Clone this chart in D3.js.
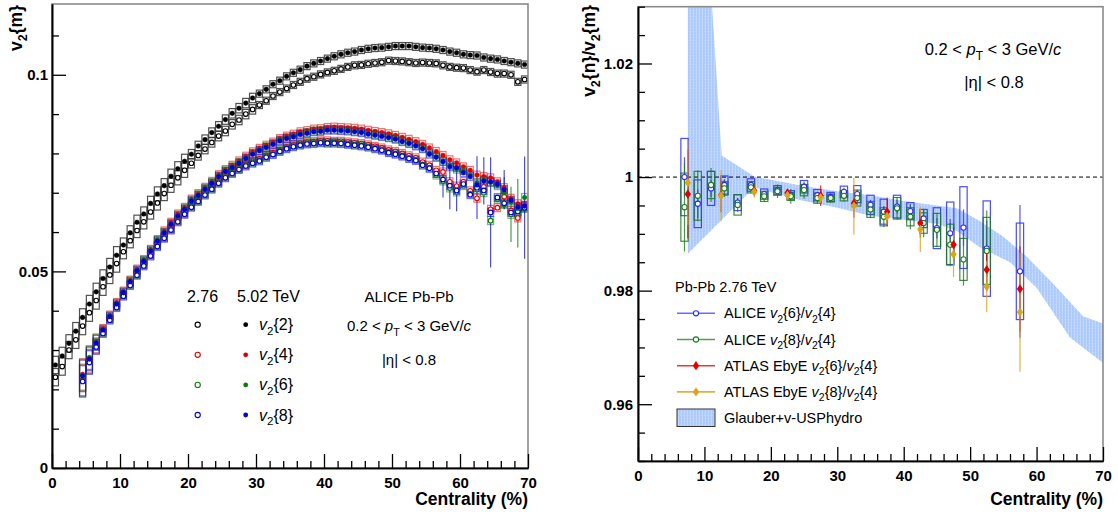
<!DOCTYPE html>
<html><head><meta charset="utf-8">
<script src="https://cdn.jsdelivr.net/npm/d3@7"></script>
<style>
body{margin:0;background:#fff}
svg{display:block}
text{font-family:"Liberation Sans",Arial,Helvetica,sans-serif;white-space:pre}
</style></head>
<body><svg id="c" width="1118" height="515"></svg>
<script>
// ---------------- DATA : left panel ----------------
const cenAll = d3.range(0.5, 70, 1);      // 1% bins 0-70
const cenMulti = d3.range(4.5, 70, 1);    // 1% bins 4-70
const v22_502 = [0.0262,0.0285,0.0317,0.0348,0.0383,0.0417,0.0448,0.0482,0.0511,0.0541,
 0.0567,0.0598,0.0625,0.0646,0.0673,0.0697,0.0718,0.0742,0.0761,0.0780,
 0.0798,0.0819,0.0835,0.0853,0.0869,0.0886,0.0902,0.0915,0.0928,0.0941,
 0.0952,0.0963,0.0976,0.0985,0.0996,0.1005,0.1013,0.1022,0.1029,0.1035,
 0.1041,0.1047,0.1052,0.1056,0.1059,0.1063,0.1066,0.1068,0.1069,0.1071,
 0.1073,0.1073,0.1073,0.1071,0.1069,0.1068,0.1066,0.1063,0.1059,0.1056,
 0.1052,0.1050,0.1049,0.1044,0.1041,0.1039,0.1035,0.1032,0.1029,0.1026];
const v22_276 = [0.0231,0.0258,0.0300,0.0326,0.0361,0.0395,0.0426,0.0461,0.0491,0.0520,
 0.0550,0.0578,0.0604,0.0626,0.0651,0.0674,0.0698,0.0719,0.0738,0.0757,
 0.0775,0.0795,0.0811,0.0828,0.0844,0.0857,0.0874,0.0885,0.0900,0.0912,
 0.0923,0.0934,0.0946,0.0956,0.0965,0.0974,0.0982,0.0990,0.0995,0.1001,
 0.1006,0.1010,0.1015,0.1020,0.1024,0.1025,0.1028,0.1030,0.1032,0.1036,
 0.1035,0.1034,0.1032,0.1030,0.1031,0.1030,0.1029,0.1024,0.1020,0.1018,
 0.1017,0.1012,0.1008,0.1012,0.1007,0.1003,0.1003,0.1000,0.0982,0.0988];
const v24_502 = [0.0238,0.0281,0.0322,0.0355,0.0389,0.0421,0.0450,0.0478,0.0506,0.0530,
 0.0556,0.0581,0.0603,0.0625,0.0646,0.0663,0.0684,0.0698,0.0714,0.0729,
 0.0746,0.0759,0.0770,0.0781,0.0793,0.0804,0.0813,0.0821,0.0829,0.0838,
 0.0844,0.0849,0.0855,0.0858,0.0862,0.0863,0.0866,0.0867,0.0866,0.0865,
 0.0864,0.0862,0.0859,0.0856,0.0853,0.0850,0.0846,0.0841,0.0836,0.0830,
 0.0823,0.0814,0.0805,0.0795,0.0784,0.0776,0.0766,0.0757,0.0745,0.0741,
 0.0738,0.0728,0.0713,0.0686,0.0672,0.0668];
const v26_502 = [0.0236,0.0279,0.0320,0.0353,0.0387,0.0419,0.0448,0.0476,0.0504,0.0528,
 0.0554,0.0579,0.0600,0.0622,0.0643,0.0660,0.0681,0.0695,0.0711,0.0726,
 0.0743,0.0756,0.0766,0.0777,0.0789,0.0800,0.0809,0.0817,0.0825,0.0834,
 0.0840,0.0844,0.0850,0.0853,0.0857,0.0858,0.0861,0.0861,0.0860,0.0859,
 0.0857,0.0855,0.0851,0.0848,0.0845,0.0842,0.0838,0.0832,0.0827,0.0821,
 0.0814,0.0801,0.0792,0.0781,0.0770,0.0760,0.0756,0.0745,0.0725,0.0733,
 0.0726,0.0718,0.0700,0.0676,0.0660,0.0688];
const v28_502 = [0.0234,0.0277,0.0318,0.0351,0.0385,0.0417,0.0446,0.0474,0.0502,0.0526,
 0.0552,0.0577,0.0598,0.0620,0.0641,0.0658,0.0679,0.0693,0.0709,0.0724,
 0.0741,0.0754,0.0764,0.0775,0.0787,0.0798,0.0807,0.0815,0.0823,0.0832,
 0.0838,0.0842,0.0848,0.0851,0.0855,0.0856,0.0859,0.0859,0.0858,0.0857,
 0.0855,0.0853,0.0849,0.0846,0.0843,0.0840,0.0836,0.0830,0.0825,0.0819,
 0.0812,0.0798,0.0790,0.0779,0.0766,0.0764,0.0751,0.0741,0.0720,0.0730,
 0.0728,0.0722,0.0708,0.0681,0.0664,0.0666];
const v24_276 = [0.0224,0.0272,0.0312,0.0346,0.0380,0.0412,0.0441,0.0468,0.0494,0.0518,
 0.0543,0.0567,0.0588,0.0609,0.0630,0.0649,0.0667,0.0682,0.0698,0.0713,
 0.0728,0.0742,0.0753,0.0763,0.0772,0.0780,0.0786,0.0795,0.0802,0.0810,
 0.0817,0.0822,0.0826,0.0829,0.0830,0.0832,0.0832,0.0831,0.0831,0.0829,
 0.0827,0.0825,0.0822,0.0818,0.0814,0.0809,0.0805,0.0800,0.0794,0.0789,
 0.0778,0.0770,0.0757,0.0753,0.0728,0.0717,0.0728,0.0705,0.0686,0.0715,
 0.0658,0.0662,0.0690,0.0655,0.0636,0.0665];
const v26_276 = [0.0222,0.0270,0.0310,0.0344,0.0378,0.0410,0.0439,0.0466,0.0492,0.0516,
 0.0541,0.0565,0.0586,0.0607,0.0628,0.0647,0.0665,0.0680,0.0696,0.0711,
 0.0726,0.0740,0.0751,0.0761,0.0770,0.0777,0.0783,0.0792,0.0799,0.0807,
 0.0814,0.0819,0.0823,0.0826,0.0827,0.0829,0.0828,0.0828,0.0827,0.0825,
 0.0823,0.0821,0.0818,0.0814,0.0810,0.0804,0.0800,0.0795,0.0789,0.0784,
 0.0772,0.0764,0.0745,0.0730,0.0712,0.0702,0.0718,0.0697,0.0708,0.0700,
 0.0629,0.0684,0.0670,0.0645,0.0648,0.0660];
const v28_276 = [0.0220,0.0268,0.0308,0.0342,0.0376,0.0408,0.0437,0.0464,0.0490,0.0514,
 0.0539,0.0563,0.0584,0.0605,0.0626,0.0645,0.0663,0.0678,0.0694,0.0709,
 0.0724,0.0738,0.0749,0.0759,0.0768,0.0775,0.0781,0.0790,0.0797,0.0805,
 0.0812,0.0817,0.0821,0.0824,0.0825,0.0827,0.0826,0.0826,0.0825,0.0823,
 0.0821,0.0819,0.0816,0.0812,0.0808,0.0802,0.0798,0.0793,0.0787,0.0782,
 0.0770,0.0762,0.0749,0.0734,0.0718,0.0706,0.0722,0.0695,0.0713,0.0706,
 0.0650,0.0688,0.0673,0.0650,0.0652,0.0662];
// systematic half-widths
const sys22ByDecade = [0.0022,0.0018,0.0012,0.0009,0.0009,0.0009,0.0009];
const sysMultiFirst = [0.0040,0.0030,0.0019,0.0010];
// statistical errors shown (centrality, half-width)
const stat28_276 = [[57.5,0.0046],[58.5,0.0060],[59.5,0.0053],[62.5,0.0080],[64.5,0.0140],[69.5,0.0130]];
const stat28_502 = [[63.5,0.0060],[66.5,0.0050]];
const stat26_276 = [[67.5,0.0070],[68.5,0.0087]];
const stat26_502 = [[66.5,0.0040]];
const yTicksL = [0, 0.05, 0.1];
const xTicks = [0,10,20,30,40,50,60,70];

// ---------------- DATA : right panel ----------------
const alice64_c = [7,9,11,13,15,17,19,21,23,25,27,29,31,33,35,37,39,41,43,45,47,49,52.5,57.5];
const alice64_v = [1.0000,0.9953,0.9980,0.9986,0.9955,0.9986,0.9970,0.9977,0.9968,0.9983,0.9968,0.9965,0.9974,0.9970,0.9951,0.9939,0.9948,0.9940,0.9927,0.9910,0.9901,0.9911,0.9874,0.9834];
const alice64_sys = [0.0068,0.0042,0.0030,0.0016,0.0014,0.0011,0.0009,0.0008,0.0008,0.0011,0.0010,0.0008,0.0010,0.0015,0.0017,0.0022,0.0020,0.0015,0.0016,0.0036,0.0055,0.0072,0.0084,0.0085];
const alice64_stat = [0.0035,0.0025,0.0015,0.0010,0.0008,0.0006,0.0006,0.0006,0.0006,0.0006,0.0006,0.0006,0.0007,0.0008,0.0009,0.0010,0.0012,0.0012,0.0014,0.0018,0.0025,0.0032,0.0050,0.0117];
const alice84_c = [7,9,11,13,15,17,19,21,23,25,27,29,31,33,35,37,39,41,43,45,47,49,52.5];
const alice84_v = [0.9947,0.9967,0.9986,0.9980,0.9951,0.9982,0.9966,0.9975,0.9966,0.9977,0.9963,0.9963,0.9967,0.9963,0.9943,0.9930,0.9945,0.9930,0.9919,0.9907,0.9881,0.9855,0.9870];
const alice84_sys = [0.0060,0.0043,0.0024,0.0012,0.0018,0.0010,0.0009,0.0007,0.0007,0.0010,0.0009,0.0007,0.0009,0.0014,0.0014,0.0016,0.0019,0.0016,0.0018,0.0029,0.0036,0.0037,0.0059];
const alice84_stat = [0.0078,0.0045,0.0030,0.0015,0.0012,0.0010,0.0009,0.0012,0.0013,0.0015,0.0010,0.0008,0.0010,0.0012,0.0015,0.0018,0.0020,0.0022,0.0025,0.0030,0.0038,0.0046,0.0071];
const atlas_c = [7.5,12.5,17.5,22.5,27.5,32.5,37.5,42.5,47.5,52.5,57.5];
const atlas64_v = [0.9970,0.9968,0.9976,0.9972,0.9967,0.9954,0.9939,0.9919,0.9881,0.9837,0.9803];
const atlas64_stat = [0.0078,0.0030,0.0008,0.0006,0.0018,0.0025,0.0025,0.0025,0.0030,0.0035,0.0075];
const atlas84_v = [0.9990,0.9967,0.9974,0.9968,0.9964,0.9949,0.9931,0.9908,0.9864,0.9807,0.9762];
const atlas84_stat = [0.0075,0.0045,0.0010,0.0008,0.0010,0.0050,0.0015,0.0040,0.0040,0.0045,0.0105];
const band_up_c = [7.5,10.6,12.6,17.5,24.5,30,35,40,45,48,51.5,55,58.5,62.5,67,70];
const band_up   = [1.04,1.04,1.0038,1.0001,0.9985,0.9975,0.9968,0.9958,0.9950,0.9945,0.9922,0.9895,0.9860,0.9812,0.9755,0.9742];
const band_lo_c = [7.5,17.5,19.5,24.5,30,35,40,45,48,51.5,56,60,65,67.5,70];
const band_lo   = [0.9865,0.9982,0.9975,0.9959,0.9946,0.9932,0.9925,0.9918,0.9905,0.9876,0.9850,0.9805,0.9718,0.9695,0.9673];
const yTicksR = [0.96,0.98,1,1.02];

// ---------------- DRAWING ----------------
const svg = d3.select('#c');
svg.append('rect').attr('width',1118).attr('height',515).attr('fill','#fff');
const defs = svg.append('defs');
const pat = defs.append('pattern').attr('id','hatch').attr('width',3).attr('height',3).attr('patternUnits','userSpaceOnUse');
pat.append('rect').attr('width',3).attr('height',3).attr('fill','#abc9fd');
pat.append('rect').attr('width',1).attr('height',3).attr('fill','#c3d8fd');
pat.append('rect').attr('x',2).attr('y',1).attr('width',1).attr('height',1).attr('fill','#bcd4fd');

const xL = d3.scaleLinear().domain([0,70]).range([52,528]);
const yL = d3.scaleLinear().domain([0,0.118]).range([468,4]);
const xR = d3.scaleLinear().domain([0,70]).range([638,1103]);
const yR = d3.scaleLinear().domain([0.95,1.03]).range([461,6.7]);

function clip(id, x, y){
  defs.append('clipPath').attr('id',id).append('rect')
    .attr('x',x.range()[0]).attr('y',y.range()[1]).attr('width',x.range()[1]-x.range()[0]).attr('height',y.range()[0]-y.range()[1]);
}
clip('clipL',xL,yL); clip('clipR',xR,yR);

function rich(g, x, y, parts, size, anchor, weight){
  const t = g.append('text').attr('x',x).attr('y',y).attr('font-size',size)
    .attr('text-anchor',anchor||'start').attr('font-weight',weight||'normal').attr('fill','#000');
  let sub=false;
  parts.forEach(p=>{
    const [s,st] = Array.isArray(p)?p:[p,''];
    const ts = t.append('tspan').text(s);
    if(st.includes('i')) ts.attr('font-style','italic');
    if(st.includes('s')){ ts.attr('font-size',size*0.72).attr('dy',size*0.3); sub=true; }
    else if(sub){ ts.attr('dy',-size*0.3); sub=false; }
  });
  return t;
}

function frameAndAxes(x, y, yTicks, yMinorStep, xPad, yPad){
  const g = svg.append('g');
  g.append('rect').attr('x',x.range()[0]).attr('y',y.range()[1])
    .attr('width',x.range()[1]-x.range()[0]).attr('height',y.range()[0]-y.range()[1])
    .attr('fill','none').attr('stroke','#8a8a8a').attr('stroke-width',1.6);
  const xMinor = d3.range(0,70.001,2).filter(v=>v%10!==0);
  const [y0,y1] = y.domain();
  const yMinor = d3.range(Math.round(y0/yMinorStep), Math.floor(y1/yMinorStep+1e-6)+1).map(k=>+(k*yMinorStep).toFixed(4)).filter(v=>!yTicks.some(t=>Math.abs(t-v)<1e-6));
  g.append('g').attr('transform',`translate(0,${y.range()[0]})`)
    .call(d3.axisBottom(x).tickValues(xTicks).tickSize(-14).tickSizeOuter(0).tickPadding(xPad).tickFormat(d3.format('d')));
  g.append('g').attr('transform',`translate(0,${y.range()[0]})`)
    .call(d3.axisBottom(x).tickValues(xMinor).tickSize(-7).tickSizeOuter(0).tickFormat(''));
  g.append('g').attr('transform',`translate(${x.range()[0]},0)`)
    .call(d3.axisLeft(y).tickValues(yTicks).tickSize(-14).tickSizeOuter(0).tickPadding(yPad).tickFormat(d=>String(+d.toFixed(3))));
  g.append('g').attr('transform',`translate(${x.range()[0]},0)`)
    .call(d3.axisLeft(y).tickValues(yMinor).tickSize(-7).tickSizeOuter(0).tickFormat(''));
  g.selectAll('.domain').attr('stroke','#000').attr('stroke-width',1.6);
  g.selectAll('.tick line').attr('stroke','#000').attr('stroke-width',1.3);
  g.selectAll('.tick text').attr('font-family','"Liberation Sans",Arial,sans-serif')
    .attr('font-size',15).attr('font-weight','bold').attr('fill','#000');
  return g;
}

// ===== LEFT PANEL =====
const gL = svg.append('g').attr('clip-path','url(#clipL)');
const bw = c => xL(c+0.45)-xL(c-0.45);
function boxes(g, x, y, cs, vs, sysFn, color, op, wFn){
  g.append('g').selectAll('rect').data(cs.map((c,i)=>({c,v:vs[i],s:sysFn(i,c)}))).join('rect')
    .attr('x',d=>x(d.c)-wFn(d.c)/2).attr('width',d=>wFn(d.c))
    .attr('y',d=>y(d.v+d.s)).attr('height',d=>y(d.v-d.s)-y(d.v+d.s))
    .attr('fill','none').attr('stroke',color).attr('stroke-opacity',op).attr('stroke-width',1.2);
}
function statBars(g, x, y, pairs, cs, vs, color, op, w){
  const data = pairs.map(([c,e])=>({c, v: vs[cs.indexOf(c)], e}));
  g.append('g').selectAll('line').data(data).join('line')
    .attr('x1',d=>x(d.c)).attr('x2',d=>x(d.c)).attr('y1',d=>y(d.v-d.e)).attr('y2',d=>y(d.v+d.e))
    .attr('stroke',color).attr('stroke-opacity',op).attr('stroke-width',w||1.2);
}
function circles(g, x, y, cs, vs, color, open, r){
  g.append('g').selectAll('circle').data(cs.map((c,i)=>({c,v:vs[i]}))).join('circle')
    .attr('cx',d=>x(d.c)).attr('cy',d=>y(d.v)).attr('r',r||2.3)
    .attr('fill',open?'#fff':color).attr('stroke',color).attr('stroke-width',open?1.1:0.5);
}
const sys22 = (i,c)=>sys22ByDecade[Math.floor(c/10)];
const sysM = (i)=>sysMultiFirst[Math.min(i,sysMultiFirst.length-1)];
const RED='#e00000', GRN='#0b7d0b', BLU='#0000e0';

boxes(gL,xL,yL,cenAll,v22_276,sys22,'#333',0.85,bw);
boxes(gL,xL,yL,cenAll,v22_502,sys22,'#333',0.85,bw);
boxes(gL,xL,yL,cenMulti,v24_276,sysM,RED,0.55,bw);
boxes(gL,xL,yL,cenMulti,v26_276,sysM,GRN,0.55,bw);
boxes(gL,xL,yL,cenMulti,v28_276,sysM,BLU,0.5,bw);
boxes(gL,xL,yL,cenMulti,v24_502,sysM,RED,0.55,bw);
boxes(gL,xL,yL,cenMulti,v26_502,sysM,GRN,0.55,bw);
boxes(gL,xL,yL,cenMulti,v28_502,sysM,BLU,0.5,bw);
statBars(gL,xL,yL,stat26_276,cenMulti,v26_276,GRN,0.75);
statBars(gL,xL,yL,stat26_502,cenMulti,v26_502,GRN,0.75);
statBars(gL,xL,yL,stat28_276,cenMulti,v28_276,BLU,0.7);
statBars(gL,xL,yL,stat28_502,cenMulti,v28_502,BLU,0.7);
circles(gL,xL,yL,cenAll,v22_276,'#000',true);
circles(gL,xL,yL,cenAll,v22_502,'#000',false);
circles(gL,xL,yL,cenMulti,v24_276,RED,true);
circles(gL,xL,yL,cenMulti,v26_276,GRN,true);
circles(gL,xL,yL,cenMulti,v28_276,BLU,true);
circles(gL,xL,yL,cenMulti,v24_502,RED,false);
circles(gL,xL,yL,cenMulti,v26_502,GRN,false);
circles(gL,xL,yL,cenMulti,v28_502,BLU,false);

frameAndAxes(xL,yL,yTicksL,0.01,9,4);

const tL = svg.append('g');
rich(tL,528,505,['Centrality (%)'],17.5,'end','bold');
rich(tL.append('g').attr('transform','translate(22,5) rotate(-90)'),0,0,[['v',''],['2','s'],['{m}','']],17.5,'end','bold');
// legend
rich(tL,202.5,302,['2.76'],16,'middle');
rich(tL,237,302,['5.02 TeV'],16,'start');
const legRows = [['2','#000'],['4',RED],['6',GRN],['8',BLU]];
legRows.forEach((r,i)=>{
  const yy = 324.7 + i*30.1;
  tL.append('circle').attr('cx',197.7).attr('cy',yy).attr('r',2.6).attr('fill','#fff').attr('stroke',r[1]).attr('stroke-width',1.1);
  tL.append('circle').attr('cx',245.7).attr('cy',yy).attr('r',2.4).attr('fill',r[1]);
  rich(tL,259,yy+5.5,[['v','i'],['2','s'],['{'+r[0]+'}','']],16,'start');
});
rich(tL,409,302,['ALICE Pb-Pb'],15,'middle');
rich(tL,409,331,['0.2 < ',['p','i'],['T','s'],' < 3 GeV/',['c','i']],15,'middle');
rich(tL,409,365,['|η| < 0.8'],15,'middle');

// ===== RIGHT PANEL =====
const gR = svg.append('g').attr('clip-path','url(#clipR)');
const bandPts = band_up_c.map((c,i)=>[c,band_up[i]]).concat(band_lo_c.map((c,i)=>[c,band_lo[i]]).reverse());
gR.append('path').attr('d',d3.line().x(d=>xR(d[0])).y(d=>yR(d[1]))(bandPts)+'Z').attr('fill','url(#hatch)');
gR.append('line').attr('x1',xR(0)).attr('x2',xR(70)).attr('y1',yR(1)).attr('y2',yR(1))
  .attr('stroke','#000').attr('stroke-width',1).attr('stroke-dasharray','4,3');
const RB='#2b2bff', RG='#1d7a1d', RR='#e00000', RO='#dca41c';
const bwR = c => xR(c+0.55)-xR(c-0.55);
boxes(gR,xR,yR,alice64_c,alice64_v,i=>alice64_sys[i],RB,0.85,bwR);
boxes(gR,xR,yR,alice84_c,alice84_v,i=>alice84_sys[i],RG,0.85,bwR);
function statAll(g,x,y,cs,vs,es,color,op,w){
  statBars(g,x,y,cs.map((c,i)=>[c,es[i]]),cs,vs,color,op,w);
}
statAll(gR,xR,yR,alice64_c,alice64_v,alice64_stat,RB,0.8,1.2);
statAll(gR,xR,yR,alice84_c,alice84_v,alice84_stat,RG,0.8,1.2);
statAll(gR,xR,yR,atlas_c,atlas64_v,atlas64_stat,RR,0.8,1.2);
statAll(gR,xR,yR,atlas_c,atlas84_v,atlas84_stat,RO,0.85,1.2);
circles(gR,xR,yR,alice64_c,alice64_v,RB,true,2.6);
circles(gR,xR,yR,alice84_c,alice84_v,RG,true,2.6);
const diamond = 'M0,-4.6L3.2,0L0,4.6L-3.2,0Z';
function diamonds(g,x,y,cs,vs,color){
  g.append('g').selectAll('path').data(cs.map((c,i)=>({c,v:vs[i]}))).join('path')
    .attr('d',diamond).attr('transform',d=>`translate(${x(d.c)},${y(d.v)})`).attr('fill',color);
}
diamonds(gR,xR,yR,atlas_c,atlas64_v,RR);
diamonds(gR,xR,yR,atlas_c,atlas84_v,RO);

frameAndAxes(xR,yR,yTicksR,0.005,9,5);

const tR = svg.append('g');
rich(tR,1103,505,['Centrality (%)'],17.5,'end','bold');
rich(tR.append('g').attr('transform','translate(595,5) rotate(-90)'),0,0,[['v',''],['2','s'],['{n}/v',''],['2','s'],['{m}','']],17.5,'end','bold');
rich(tR,993,55,['0.2 < ',['p','i'],['T','s'],' < 3 GeV/',['c','i']],16.5,'middle');
rich(tR,994,88,['|η| < 0.8'],16.5,'middle');
rich(tR,675,292,['Pb-Pb 2.76 TeV'],14.5,'start');
const legR = [
  {c:RB,line:'#6a6aff',m:'o',t:[['ALICE ',''],['v','i'],['2','s'],['{6}/',''],['v','i'],['2','s'],['{4}','']]},
  {c:RG,line:'#4f9f4f',m:'o',t:[['ALICE ',''],['v','i'],['2','s'],['{8}/',''],['v','i'],['2','s'],['{4}','']]},
  {c:RR,line:'#e03a3a',m:'d',t:[['ATLAS EbyE ',''],['v','i'],['2','s'],['{6}/',''],['v','i'],['2','s'],['{4}','']]},
  {c:RO,line:'#e0b040',m:'d',t:[['ATLAS EbyE ',''],['v','i'],['2','s'],['{8}/',''],['v','i'],['2','s'],['{4}','']]}
];
legR.forEach((e,i)=>{
  const yy = 313.3 + i*26.2;
  tR.append('line').attr('x1',677).attr('x2',715).attr('y1',yy).attr('y2',yy).attr('stroke',e.line).attr('stroke-width',1.6);
  if(e.m==='o') tR.append('circle').attr('cx',696).attr('cy',yy).attr('r',2.6).attr('fill','#fff').attr('stroke',e.c).attr('stroke-width',1.1);
  else tR.append('path').attr('d',diamond).attr('transform',`translate(696,${yy})`).attr('fill',e.c);
  rich(tR,724,yy+5,e.t,14.5,'start');
});
tR.append('rect').attr('x',677).attr('y',409).attr('width',38).attr('height',17.5).attr('fill','url(#hatch)').attr('stroke','#333').attr('stroke-width',1);
rich(tR,724,423,['Glauber+v-USPhydro'],14.5,'start');
</script></body></html>
